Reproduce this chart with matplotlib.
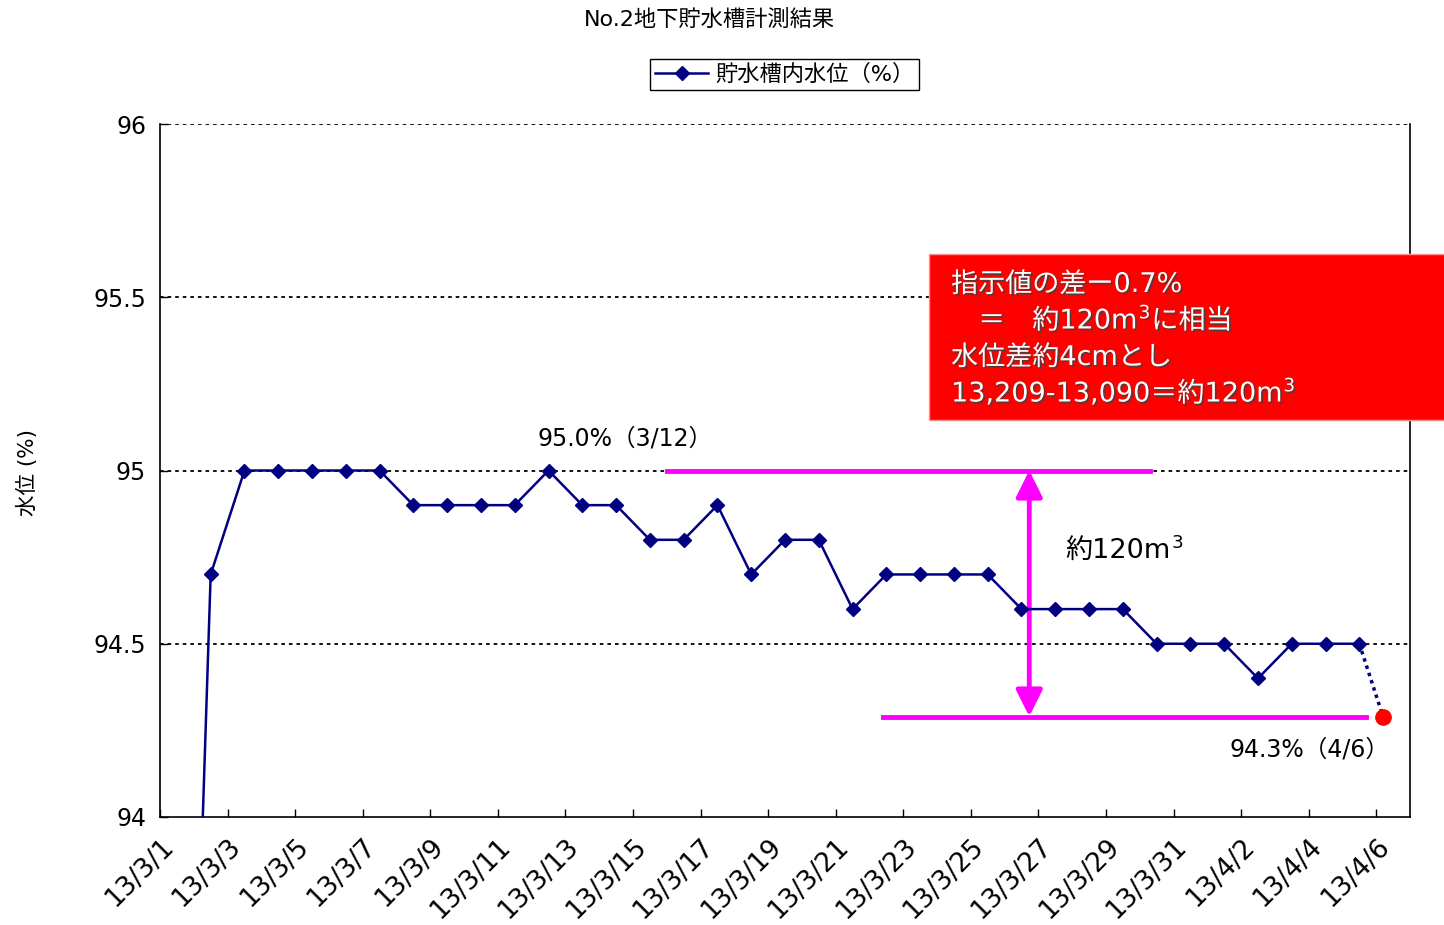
import numpy as np
import matplotlib
matplotlib.use("Agg")
import matplotlib.pyplot as plt
import matplotlib.patheffects as pe
from matplotlib.patches import Rectangle
from matplotlib.lines import Line2D

plt.rcParams['font.family'] = ['DejaVu Sans', 'Noto Sans CJK JP']

# daily water level (%), 13/3/1 .. 13/4/5
levels = [91.7, 94.7, 95.0, 95.0, 95.0, 95.0, 95.0, 94.9, 94.9, 94.9,
          94.9, 95.0, 94.9, 94.9, 94.8, 94.8, 94.9, 94.7, 94.8, 94.8,
          94.6, 94.7, 94.7, 94.7, 94.7, 94.6, 94.6, 94.6, 94.6, 94.5,
          94.5, 94.5, 94.4, 94.5, 94.5, 94.5]
tick_labels = ['13/3/1', '13/3/3', '13/3/5', '13/3/7', '13/3/9', '13/3/11',
               '13/3/13', '13/3/15', '13/3/17', '13/3/19', '13/3/21',
               '13/3/23', '13/3/25', '13/3/27', '13/3/29', '13/3/31',
               '13/4/2', '13/4/4', '13/4/6']
est_day = 36.2      # 4/6 estimate
est_level = 94.29
high_level = 95.0

navy = '#000080'
magenta = '#FF00FF'
W, H = 1444, 925

fig = plt.figure(figsize=(W/100, H/100), dpi=100)
ax = fig.add_axes([160/W, 1-817/H, 1250/W, 693/H])
renderer = fig.canvas.get_renderer()


def pieces(x, y, parts, size, **kw):
    # write text parts one after another (pixel coords, y from top),
    # parts flagged True are drawn as superscript
    for s, sup in parts:
        fs = size*0.68 if sup else size
        yy = y - size*0.42 if sup else y
        xx = x + 2 if sup else x
        t = fig.text(xx/W, 1-yy/H, s, fontsize=fs, ha='left', va='center', **kw)
        bb = t.get_window_extent(renderer)
        x = bb.x1 + (1 if sup else -1)


days = np.arange(len(levels)) + 0.5
ax.plot(days, levels, color=navy, lw=1.8, marker='D', ms=7, zorder=4)
ax.plot([days[-1], est_day], [levels[-1], est_level], color=navy, lw=2.5,
        ls=(0, (1, 1.2)), zorder=4)
ax.plot([est_day], [est_level], 'o', color='red', ms=11, zorder=5)

ax.set_xlim(0, 37)
ax.set_ylim(94, 96)
ax.set_xticks(np.arange(0, 37, 2))
ax.set_xticklabels(tick_labels, rotation=45, ha='right', va='top',
                   rotation_mode='anchor')
ax.set_yticks([94, 94.5, 95, 95.5, 96])
ax.set_yticklabels(['94', '94.5', '95', '95.5', '96'])
ax.tick_params(axis='both', direction='in', length=6, width=1)
ax.tick_params(axis='x', labelsize=19, pad=12)
ax.tick_params(axis='y', labelsize=17, pad=10)
for s in ['left', 'bottom', 'right']:
    ax.spines[s].set_linewidth(1.2)
ax.spines['top'].set_visible(False)
for y in [94.5, 95, 95.5, 96]:
    ax.axhline(y, color='black', lw=1.3, ls=(0, (2, 2.2)), zorder=1)

# magenta markers
ax.plot([15.0, 29.3], [high_level, high_level], color=magenta, lw=3.5, zorder=3)
ax.plot([21.4, 35.7], [est_level, est_level], color=magenta, lw=3.5, zorder=3)
ax.annotate('', xy=(25.73, high_level), xytext=(25.73, est_level),
            arrowprops=dict(arrowstyle='<|-|>', color=magenta, lw=3.5,
                            mutation_scale=40, shrinkA=0, shrinkB=0),
            zorder=3)

pieces(1065, 551, [('約120m', False), ('3', True)], 19.5)
ax.text(11.17, 95.092, '95.0%（3/12）', fontsize=17, ha='left', va='center')
ax.text(31.65, 94.194, '94.3%（4/6）', fontsize=17, ha='left', va='center')

fig.text(709/W, 1-19/H, 'No.2地下貯水槽計測結果', fontsize=16,
         ha='center', va='center')
fig.text(27/W, 1-472/H, '水位 (%)', fontsize=15.5, rotation=90,
         ha='center', va='center')

handle = Line2D([], [], color=navy, lw=1.8, marker='D', ms=7)
leg = fig.legend([handle], ['貯水槽内水位（%）'], loc='center',
                 bbox_to_anchor=(784.5/W, 1-74.5/H), fontsize=16,
                 fancybox=False, framealpha=1, edgecolor='black',
                 handlelength=2.4, borderpad=0.2, handletextpad=0.3)
leg.get_frame().set_linewidth(1.0)

# red note box
fig.patches.append(Rectangle((929/W, 1-420/H), 520/W, 166/H,
                             transform=fig.transFigure, facecolor='#FF0000',
                             edgecolor='#FF9090', lw=1, zorder=6))
note = [[('指示値の差ー0.7%', False)],
        [('\u3000＝\u3000約120m', False), ('3', True), ('に相当', False)],
        [('水位差約4cmとし', False)],
        [('13,209-13,090＝約120m', False), ('3', True)]]
shadow = [pe.withSimplePatchShadow(offset=(1.2, -1.2), shadow_rgbFace='#404040',
                                   alpha=0.8)]
for i, parts in enumerate(note):
    pieces(951, 285 + 36.5*i, parts, 19.5, color='white', zorder=7,
           path_effects=shadow)

fig.savefig('out.png', dpi=100)
